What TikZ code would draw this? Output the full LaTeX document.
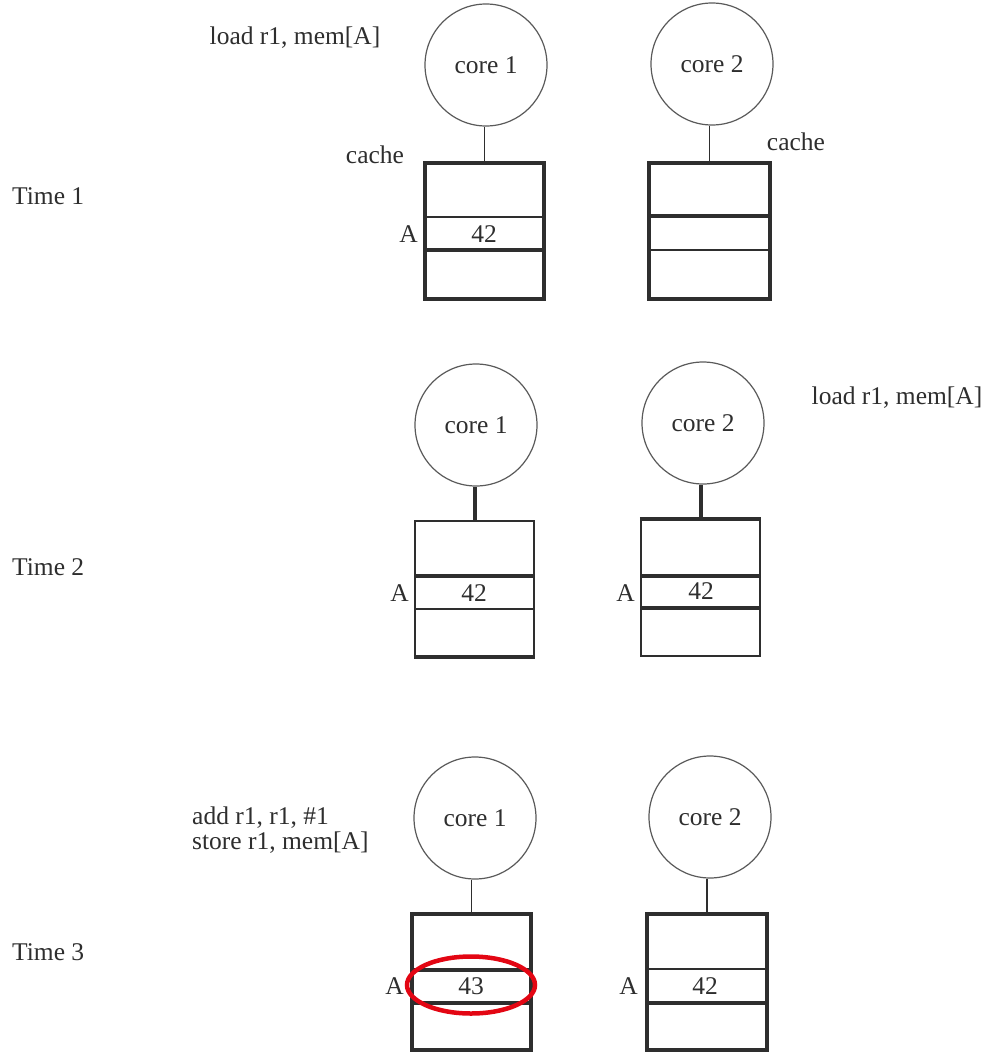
\documentclass[tikz,border=0pt]{standalone}
\usepackage{fontspec}
\setmainfont{Liberation Serif}
\usetikzlibrary{shapes.geometric}
\definecolor{ink}{HTML}{2E2E2E}
\definecolor{ringgray}{HTML}{5A5A5A}
\definecolor{mark}{HTML}{E30613}
\begin{document}
\begin{tikzpicture}[x=1pt,y=-1pt,
  thinline/.style={line width=1.8pt, draw=ink},
  thickline/.style={line width=4pt, draw=ink},
  corenode/.style={circle, draw=ringgray, line width=1.2pt, minimum size=122pt,
                   inner sep=0pt, text=ink},
  boxarea/.style={rectangle, draw=none, inner sep=0pt, minimum width=119pt,
                  minimum height=136pt},
  lbl/.style={text=ink, inner sep=0pt},
  every node/.append style={font=\fontsize{25.5}{26}\selectfont}]
\useasboundingbox (0,0) rectangle (990,1052);

% ---------------- Time 1 ----------------
\node[lbl, anchor=west] (t1) at (12,196) {Time 1};
\node[lbl] (ins1) at (295,38) {load r1, mem[A]};
\node[corenode] (c11) at (486,65) {core 1};
\node[corenode] (c12) at (712,64) {core 2};
\node[boxarea] (b11) at (484.5,231) {};
\node[boxarea, minimum width=121pt] (b12) at (709.5,231) {};
\node[lbl] (k11) at (375,155) {cache};
\node[lbl] (k12) at (796,142) {cache};
\draw[thinline] (b11.north) -- (b11.north |- c11.south);
\draw[thinline] (b12.north) -- (b12.north |- c12.south);
\draw[thickline] (b11.north west) rectangle (b11.south east);
\draw[thinline]  (b11.west |- 0,217) -- (b11.east |- 0,217);
\draw[thickline] (b11.west |- 0,250) -- (b11.east |- 0,250);
\draw[thickline] (b12.north west) rectangle (b12.south east);
\draw[thickline] (b12.west |- 0,216) -- (b12.east |- 0,216);
\draw[thinline]  (b12.west |- 0,250) -- (b12.east |- 0,250);
\node[lbl] (v11) at (484,234) {42};
\node[lbl, anchor=east] (a11) at (418,234) {A};

% ---------------- Time 2 ----------------
\node[lbl, anchor=west] (t2) at (12,567) {Time 2};
\node[lbl] (ins2) at (897,398) {load r1, mem[A]};
\node[corenode] (c21) at (476,425) {core 1};
\node[corenode] (c22) at (703,423) {core 2};
\node[boxarea] (b21) at (474.5,589) {};
\node[boxarea] (b22) at (700.5,587.5) {};
\draw[thickline] (b21.north) -- (b21.north |- c21.south);
\draw[thickline] (b22.north) -- (b22.north |- c22.south);
% left cache: light frame, heavy floor
\draw[thinline] (b21.south west) -- (b21.north west) -- (b21.north east) -- (b21.south east);
\draw[thickline] ([xshift=-1pt]b21.south west) -- ([xshift=1pt]b21.south east);
\draw[thickline] (b21.west |- 0,576) -- (b21.east |- 0,576);
\draw[thinline]  (b21.west |- 0,609) -- (b21.east |- 0,609);
% right cache: heavy roof, light frame
\draw[thinline] (b22.north west) -- (b22.south west) -- (b22.south east) -- (b22.north east);
\draw[thickline] ([xshift=-1pt]b22.north west) -- ([xshift=1pt]b22.north east);
\draw[thickline] (b22.west |- 0,576) -- (b22.east |- 0,576);
\draw[thickline] (b22.west |- 0,608) -- (b22.east |- 0,608);
\node[lbl] (v21) at (474,593) {42};
\node[lbl] (v22) at (701,591) {42};
\node[lbl, anchor=east] (a21) at (409,593) {A};
\node[lbl, anchor=east] (a22) at (635,593) {A};

% ---------------- Time 3 ----------------
\node[lbl, anchor=west] (t3) at (12,952) {Time 3};
\node[lbl, anchor=west, align=left] (ins3) at (192,830)
  {add r1, r1, \#1\\[-1pt]store r1, mem[A]};
\node[corenode] (c31) at (475,818) {core 1};
\node[corenode] (c32) at (710,817) {core 2};
\node[boxarea] (b31) at (471.5,982) {};
\node[boxarea, minimum width=120pt] (b32) at (707,982) {};
\draw[thinline] (b31.north) -- (b31.north |- c31.south);
\draw[thinline] (b32.north) -- (b32.north |- c32.south);
\draw[thickline] (b31.north west) rectangle (b31.south east);
\draw[thickline] (b31.west |- 0,970) -- (b31.east |- 0,970);
\draw[thickline] (b31.west |- 0,1003) -- (b31.east |- 0,1003);
\draw[thickline] (b32.north west) rectangle (b32.south east);
\draw[thinline]  (b32.west |- 0,969) -- (b32.east |- 0,969);
\draw[thickline] (b32.west |- 0,1003) -- (b32.east |- 0,1003);
\node[lbl] (v31) at (471,986) {43};
\node[lbl] (v32) at (705,986) {42};
\node[lbl, anchor=east] (a31) at (404,986) {A};
\node[lbl, anchor=east] (a32) at (638,986) {A};
% updated line highlighted
\node[ellipse, draw=mark, line width=4.5pt, minimum width=128pt,
      minimum height=57pt, inner sep=0pt] (hl) at (471,985) {};
\end{tikzpicture}
\end{document}
